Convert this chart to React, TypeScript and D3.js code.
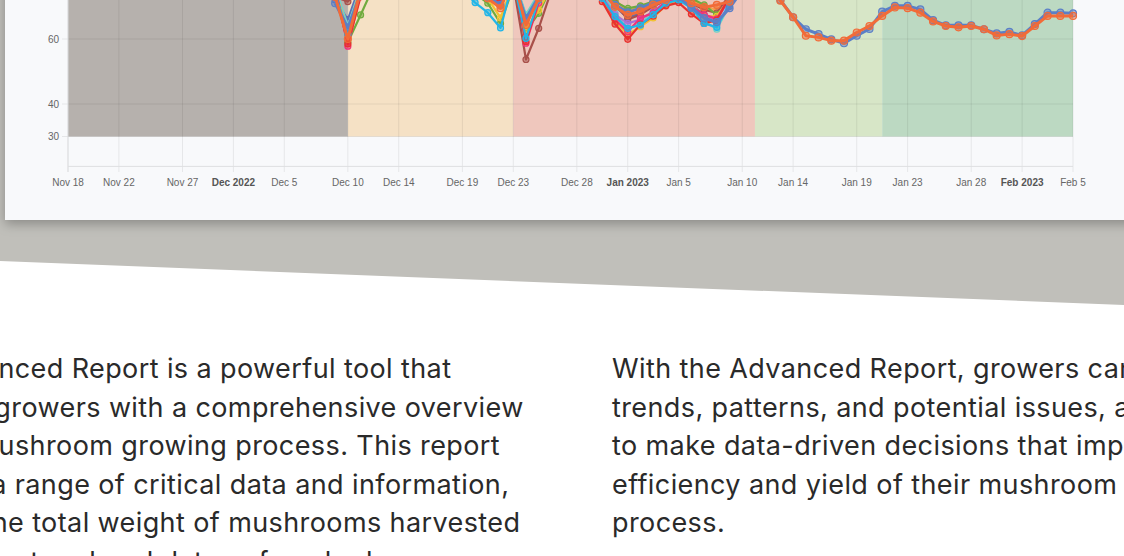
import React from 'react';
import * as d3 from 'd3';

const W = 1124;
const H = 556;

// x axis ticks (month starts are bold)
const tickDates = [
  '2022-11-18', '2022-11-22', '2022-11-27', '2022-12-01', '2022-12-05', '2022-12-10',
  '2022-12-14', '2022-12-19', '2022-12-23', '2022-12-28', '2023-01-01', '2023-01-05',
  '2023-01-10', '2023-01-14', '2023-01-19', '2023-01-23', '2023-01-28', '2023-02-01', '2023-02-05'
];
const yTicks = [30, 40, 60, 80, 100];

// growing phases (background bands)
const phaseEdges = ['2022-11-18', '2022-12-10', '2022-12-23', '2023-01-11', '2023-01-21', '2023-02-05'];
const phaseColors = ['#b6b1ad', '#f5e1c5', '#efc7bd', '#d7e6c7', '#bcd9c2'];

// daily readings, first value is Dec 9 2022
const seriesStart = '2022-12-09';

const blueRoom = [
  71.0, 63.5, 74, 80, 82, 84, 83, 85, 84, 82, 80, 75, 73, 70.5, 78, 66.4, 73, 80, 84, 82,
  78, 74, 70.5, 68.2, 69.5, 71.2, 72.5, 73, 69.7, 66.4, 65.2, 69.5, 75, 78, 77, 72, 66.7, 63.0,
  61.5, 59.9, 58.7, 61.0, 63.1, 68.4, 70.2, 70.2, 69.1, 65.8, 64.2, 64.2, 64.2, 63.0, 61.7,
  62.2, 61.1, 64.6, 68.1, 68.1, 67.9
];
const orangeRoom = [
  73, 60.0, 75, 82, 85, 86, 84, 83, 85, 82, 78, 74, 72.5, 69.5, 79, 64.3, 72.5, 79, 83, 85,
  80, 75, 69.9, 67.4, 68.5, 70.5, 72, 73.5, 71, 69.8, 70.5, 71.5, 76, 79, 77, 71.8, 66.7, 61.0,
  60.5, 59.5, 59.5, 62.0, 64.0, 67.1, 69.7, 69.5, 68.1, 65.4, 64.0, 63.6, 64.0, 63.0, 61.1,
  61.5, 60.9, 64.0, 67.1, 67.1, 67.1
];
const greenRoom = [
  74, 59.0, 67.4, 76, 80, 83, 82, 84, 81, 79, 77, 74, 71, 64.8, 76, 62.5, 67.9, 76, 82, 84,
  79, 75, 71.5, 69.4, 70.2, 71.5, 73, 74, 72.5, 70.5, 67.4, 72, 77, 80
];
const redRoom = [
  75, 58.5, 73, 79, 83, 85, 84, 86, 83, 80, 78, 76, 74, 71, 78, 59.2, 72, 78, 83, 84,
  79, 71.5, 64.6, 59.9, 64.5, 67, 70.2, 71.2, 67.7, 64.8, 65.8, 73, 77, 79
];
const pinkRoom = [
  76, 57.8, 74, 80, 84, 86, 85, 84, 82, 81, 79, 77, 75, 72, 79, 58.7, 71, 78, 82, 83,
  80, 73, 66.0, 62.2, 66.5, 68, 71.5, 72.5, 70, 67.5, 66.2, 73, 78, 80
];
const brownRoom = [
  73, 71.5, 76, 81, 83, 84, 86, 85, 83, 80, 78, 76, 74, 73, 77, 53.7, 63.3, 75, 81, 83,
  79, 74, 71.0, 66.0, 67.5, 70, 72, 73, 71, 69, 68.0, 73.5, 78, 79
];
const cyanRoom = [
  74, 61.5, 75, 80, 82, 85, 84, 83, 82, 79, 75, 71.2, 68.1, 63.4, 78, 60.2, 72, 77, 82, 84,
  78, 72.5, 66.9, 63.3, 64.3, 67.5, 71, 72, 69.5, 64.8, 63.6, 71, 76, 78
];
const yellowRoom = [
  75, 60.5, 74, 79, 82, 84, 83, 85, 82, 80, 77, 75, 72.5, 66.5, 77, 63.0, 68.9, 76, 81, 83,
  79, 72.5, 65.5, 61.4, 63.8, 66.5, 70.5, 72, 70.5, 67, 67.0, 72.5, 77, 79
];
const purpleRoom = [
  74, 62.0, 75, 80, 83, 85, 84, 84, 83, 81, 78, 75, 73.5, 71, 78, 65.0, 73, 78, 82, 84,
  80, 73, 67.5, 64.8, 66.0, 68.5, 71.5, 72.5, 70.5, 67, 66.0, 72, 77, 79
];
const tealRoom = [
  76, 64.0, 76, 81, 84, 86, 85, 84, 82, 80, 79, 77, 75, 72.5, 79, 67.5, 74, 79, 83, 85,
  80, 74, 68.0, 63.0, 65.0, 68.0, 71.5, 72.5, 70, 65.5, 63.0, 70.5, 76, 78
];
const slateRoom = [
  72, 66.0, 77, 81, 83, 84, 85, 83, 82, 80, 78, 76, 74, 72, 79, 67.0, 73.5, 79, 82, 84,
  80, 74, 70.0, 66.5, 68.0, 70.0, 72, 73, 70.5, 67.5, 64.5, 70, 76, 79
];
const peachRoom = [
  75, 62.0, 76, 80, 82, 85, 86, 84, 82, 81, 78, 76, 74, 70, 78, 65.5, 72.5, 78, 83, 84,
  80, 75, 72.0, 68.5, 70.0, 71.5, 73, 74, 72, 70, 69.0, 71, 76, 79
];

const rooms = [
  { values: slateRoom, color: '#5c6fb5' },
  { values: tealRoom, color: '#6fd3c8' },
  { values: peachRoom, color: '#f5a04a' },
  { values: brownRoom, color: '#a8504a' },
  { values: greenRoom, color: '#6fab3e' },
  { values: purpleRoom, color: '#a673d6' },
  { values: yellowRoom, color: '#f2c230' },
  { values: pinkRoom, color: '#f0327c' },
  { values: redRoom, color: '#e8322e' },
  { values: cyanRoom, color: '#22b5e8' },
  { values: blueRoom, color: '#5b7fc7', main: true },
  { values: orangeRoom, color: '#f26b38', main: true }
];

const leftText = [
  'The Advanced Report is a powerful tool that',
  'provides growers with a comprehensive overview',
  'of your mushroom growing process. This report',
  'includes a range of critical data and information,',
  'such as the total weight of mushrooms harvested',
  'and the start and end dates of each phase.'
];
const rightText = [
  'With the Advanced Report, growers can identify',
  'trends, patterns, and potential issues, allowing them',
  'to make data-driven decisions that improve the',
  'efficiency and yield of their mushroom growing',
  'process.'
];

const parse = d3.timeParse('%Y-%m-%d');
const fmt = d3.timeFormat('%b %-d');

function Chart() {
  const x = d3.scaleTime()
    .domain([parse('2022-11-18'), parse('2023-02-05')])
    .range([68, 1073]);
  const y = d3.scaleLinear().domain([20.8, 100]).range([166.4, -91]);
  const start = parse(seriesStart);
  const line = d3.line<number>()
    .x((d, i) => x(d3.timeDay.offset(start, i)))
    .y(d => y(d));

  return (
    <g>
      {phaseColors.map((c, i) => {
        const x0 = x(parse(phaseEdges[i]));
        const x1 = x(parse(phaseEdges[i + 1]));
        return <rect key={i} x={x0} y={-300} width={x1 - x0} height={y(30) + 300} fill={c} />;
      })}
      {tickDates.map(t => (
        <line key={t} x1={x(parse(t))} x2={x(parse(t))} y1={-300} y2={172}
          stroke="rgba(0,0,0,0.075)" strokeWidth={1} />
      ))}
      {yTicks.map(v => (
        <g key={v}>
          <line x1={62} x2={1073} y1={y(v)} y2={y(v)} stroke="rgba(0,0,0,0.075)" />
          <text x={59} y={y(v)} dy="0.35em" textAnchor="end" fontSize={10}
            fontFamily="Liberation Sans, Arial, sans-serif" fill="#666">{v}</text>
        </g>
      ))}
      <line x1={68} x2={1073} y1={y(20.8)} y2={y(20.8)} stroke="#dedfe1" />
      <line x1={68} x2={68} y1={-300} y2={172} stroke="#dedfe1" />
      {tickDates.map(t => {
        const d = parse(t);
        const isMonth = d.getDate() === 1;
        return (
          <text key={t} x={x(d)} y={185.5} textAnchor="middle" fontSize={10}
            fontFamily="Liberation Sans, Arial, sans-serif"
            fontWeight={isMonth ? 'bold' : 'normal'} fill={isMonth ? '#555' : '#666'}>
            {isMonth ? d3.timeFormat('%b %Y')(d) : fmt(d)}
          </text>
        );
      })}
      {rooms.map((r, k) => (
        <g key={k}>
          <path d={line(r.values) || ''} fill="none" stroke={r.color}
            strokeWidth={r.main ? 3 : 2.2} strokeLinejoin="round" />
          {r.values.map((v, i) => (
            <circle key={i} cx={x(d3.timeDay.offset(start, i))} cy={y(v)} r={r.main ? 3.5 : 3}
              fill={r.color} fillOpacity={0.5} stroke={r.color} strokeWidth={1.2} />
          ))}
        </g>
      ))}
    </g>
  );
}

export default function App() {
  const textStyle = { fontFamily: 'Inter, sans-serif', fontSize: 27, letterSpacing: 0.4, fill: '#2a2a2a' };
  return (
    <div style={{ position: 'fixed', left: 0, top: 0, width: W, height: H, overflow: 'hidden', background: '#fff' }}>
      <svg width={W} height={H} style={{ display: 'block' }}>
        <defs>
          <filter id="cardShadow" x="-10%" y="-10%" width="120%" height="130%">
            <feDropShadow dx={0} dy={4} stdDeviation={6} floodColor="#000" floodOpacity={0.28} />
          </filter>
        </defs>
        <polygon points={`0,0 ${W},0 ${W},305 0,261`} fill="#c0bfba" />
        <rect x={5} y={-400} width={1300} height={620} fill="#f8f9fb" filter="url(#cardShadow)" />
        <Chart />
        {leftText.map((t, i) => (
          <text key={i} x={-127} y={378 + i * 38.5} {...textStyle}>{t}</text>
        ))}
        {rightText.map((t, i) => (
          <text key={i} x={612} y={378 + i * 38.5} {...textStyle}>{t}</text>
        ))}
      </svg>
    </div>
  );
}
